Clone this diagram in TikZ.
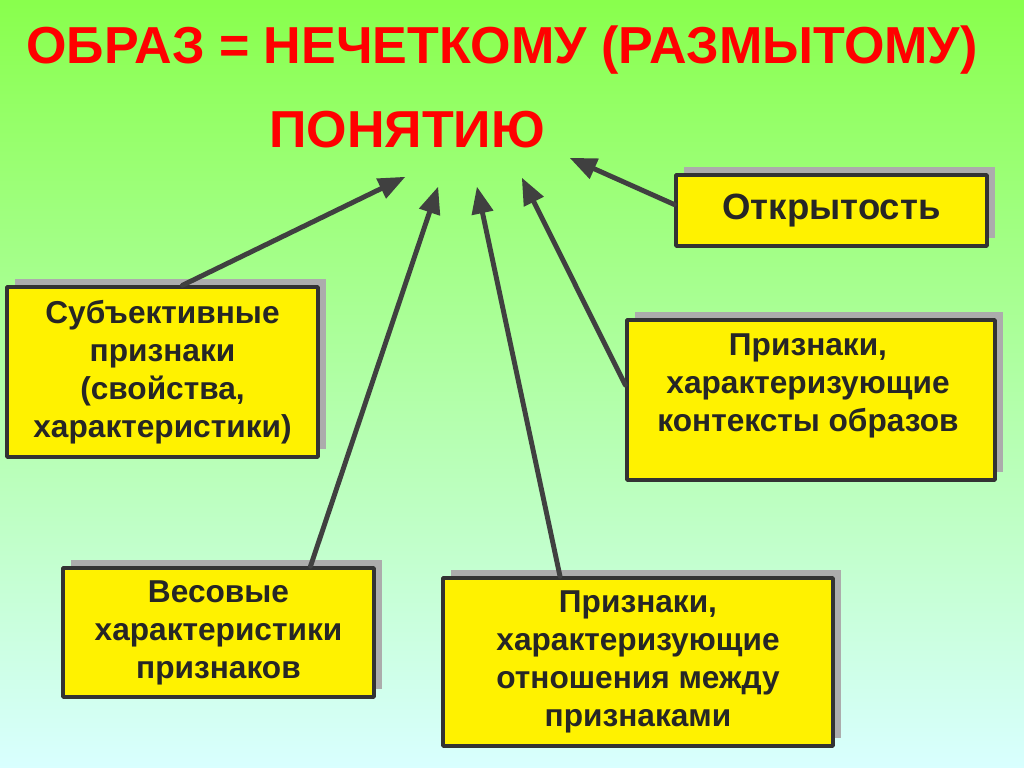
\documentclass[tikz,border=0pt]{standalone}
\usepackage{fontspec}
\setmainfont{Liberation Sans}
\usetikzlibrary{arrows, calc, positioning}

\begin{document}
\begin{tikzpicture}[line cap=round,line join=round,>=triangle 45,x=0.025cm,y=-0.025cm,
  box/.style={draw=black!80, line width=2.5pt, fill=yellow, align=center, inner sep=0pt,
    font=\bfseries\fontsize{22.5}{27}\selectfont, text=black!85},
  boxtext/.style={align=center, inner sep=0pt, font=\bfseries\fontsize{22.5}{27}\selectfont, text=black!85},
  shadow/.style={fill=gray!65},
  link/.style={->, line width=3.5pt, color=black!75}]
% Background
\shade [top color=green!55!lime!70!white, bottom color=cyan!15!white] (0,0) rectangle (1024,768);
\useasboundingbox (0,0) rectangle (1024,768);

% Title
\node [text=red, font=\bfseries\fontsize{37}{44}\selectfont] (title) at (502,50) {ОБРАЗ = НЕЧЕТКОМУ (РАЗМЫТОМУ)};
\node [text=red, font=\bfseries\fontsize{37}{44}\selectfont] (concept) at (407,130) {ПОНЯТИЮ};

% Shadows
\fill [shadow] (684,167) rectangle (995,238);
\fill [shadow] (15,279) rectangle (326,449);
\fill [shadow] (635,312) rectangle (1003,472);
\fill [shadow] (71,560) rectangle (382,689);
\fill [shadow] (451,570) rectangle (841,738);

% Boxes
\node [box, font=\bfseries\fontsize{26}{30}\selectfont, minimum width=311*0.025cm, minimum height=71*0.025cm] (open) at (831.5,210.5) {Открытость};
\node [box, minimum width=311*0.025cm, minimum height=170*0.025cm] (subj) at (162.5,372) {Субъективные\\признаки\\(свойства,\\характеристики)};
\node [box, minimum width=368*0.025cm, minimum height=160*0.025cm] (context) at (811,400) {};
\node [boxtext] (contextText) at (808,386) {Признаки,\\характеризующие\\контексты образов};
\node [box, minimum width=311*0.025cm, minimum height=129*0.025cm] (weight) at (218.5,632.5) {Весовые\\характеристики\\признаков};
\node [box, minimum width=390*0.025cm, minimum height=168*0.025cm] (relation) at (638,662) {Признаки,\\характеризующие\\отношения между\\признаками};

% Arrow ends
\coordinate (t1) at (405,177);
\coordinate (t2) at (438,187);
\coordinate (t3) at (477,187);
\coordinate (t4) at (522,178);
\coordinate (t5) at (570,158);

% Arrows
\draw [link] (open.west) ++(0,-6) -- (t5);
\draw [link] ($(subj.north)+(20,0)$) -- (t1);
\draw [link] ($(weight.north)+(92,0)$) -- (t2);
\draw [link] ($(relation.north)+(-78,0)$) -- (t3);
\draw [link] ($(context.west)+(0,-15)$) -- (t4);
\end{tikzpicture}
\end{document}
